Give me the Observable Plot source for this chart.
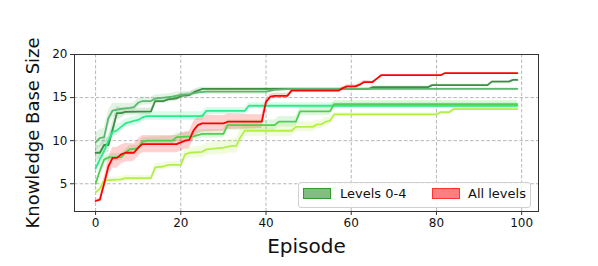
<!DOCTYPE html>
<html><head><meta charset="utf-8">
<script src="https://cdn.jsdelivr.net/npm/d3@7"></script>
<script src="https://cdn.jsdelivr.net/npm/@observablehq/plot@0.6"></script>
<style>
body{margin:0;background:#fff;font-family:"DejaVu Sans",sans-serif}
#wrap{position:relative;width:598px;height:266px;overflow:hidden}
.legend{position:absolute;left:298px;top:182px;width:231px;height:24px;background:rgba(255,255,255,0.85);border:1px solid #d0d0d0;border-radius:3px;font-size:13px;color:#111}
.sw{position:absolute;top:5px;width:26px;height:9px}
.lt{position:absolute;top:3px;line-height:15px;white-space:nowrap}
</style></head><body><div id="wrap"></div>
<script>
// [episode, mean, half-width of shaded band]
const seriesA = [[0,8.6,0.8],[1,8.6,0.8],[2,9.5,0.9],[3,9.5,0.9],[4,11.3,0.9],[5,13.2,0.8],[6,13.2,0.6],[7,13.35,0.4],[13,13.4,0.4],[14,14.6,0.3],[16,14.6,0.3],[17,14.8,0.3],[19,14.9,0.3],[20,15.2,0.3],[22,15.3,0.3],[23,15.6,0.3],[24,15.8,0.3],[25,16.0,0.2],[64,16.0,0.15],[65,16.2,0.15],[78,16.2,0.15],[79,16.45,0.1],[92,16.45,0.1],[93,16.85,0.1],[97,16.85,0.1],[98,17.05,0.1],[99,17.05,0.1]];
const seriesB = [[0,9.8,1.0],[1,10.3,1.0],[2,10.4,1.0],[3,12.6,0.9],[4,13.5,0.8],[5,13.6,0.7],[6,13.7,0.6],[8,13.8,0.5],[9,13.9,0.5],[10,14.4,0.5],[11,14.6,0.5],[13,14.6,0.4],[14,14.9,0.4],[16,15.0,0.4],[18,15.1,0.4],[20,15.3,0.4],[22,15.4,0.3],[24,15.6,0.3],[26,15.7,0.3],[40,15.7,0.3],[42,15.9,0.2],[46,16.0,0.15],[99,16.0,0.15]];
const seriesC = [[0,6.8,0.6],[1,7.8,0.6],[2,8.8,0.6],[3,10.0,0.6],[4,11.0,0.6],[5,11.2,0.6],[6,11.6,0.5],[7,12.0,0.5],[9,12.3,0.5],[10,12.4,0.5],[11,12.7,0.5],[12,12.85,0.5],[25,12.85,0.5],[26,13.45,0.4],[35,13.45,0.4],[36,14.05,0.35],[99,14.05,0.35]];
const seriesD = [[0,5.0,0.3],[1,6.5,0.4],[2,7.8,0.4],[3,8.05,0.4],[6,8.1,0.4],[7,8.6,0.4],[8,9.0,0.4],[10,9.1,0.4],[11,9.9,0.4],[12,10.0,0.4],[18,10.0,0.5],[19,10.4,0.5],[23,10.5,0.5],[25,10.8,0.5],[30,10.8,0.5],[31,11.8,0.6],[42,11.8,0.6],[43,12.2,0.6],[47,12.2,0.6],[48,13.4,0.5],[55,13.4,0.5],[56,14.25,0.4],[99,14.25,0.4]];
const seriesE = [[0,4.0,0.3],[1,4.4,0.3],[2,5.4,0.3],[6,5.5,0.3],[7,5.65,0.3],[13,5.65,0.3],[14,6.9,0.4],[16,7.0,0.4],[17,7.2,0.4],[20,7.2,0.4],[21,8.4,0.6],[22,8.6,0.6],[25,8.7,0.7],[26,9.0,0.7],[30,9.2,0.8],[32,9.4,0.8],[33,9.4,0.9],[34,10.4,0.9],[35,11.15,0.7],[46,11.15,0.7],[47,11.6,0.6],[51,11.6,0.6],[52,11.9,0.5],[53,11.9,0.5],[54,12.2,0.5],[55,12.3,0.4],[56,13.05,0.2],[80,13.05,0.15],[81,13.3,0.15],[83,13.3,0.1],[84,13.65,0.1],[99,13.65,0.1]];
const seriesAll = [[0,3.0,0.15],[1,3.15,0.2],[2,5.0,0.7],[3,7.0,1.0],[4,8.0,1.2],[5,8.0,1.2],[6,8.4,1.1],[7,8.6,1.1],[9,8.6,1.0],[10,9.2,1.0],[11,9.6,1.0],[19,9.6,1.0],[20,9.8,1.0],[21,10.0,1.0],[22,10.1,1.0],[23,11.2,1.0],[24,11.8,1.0],[25,12.0,1.0],[30,12.0,0.9],[31,12.2,0.9],[39,12.2,0.8],[40,14.5,0.4],[41,15.1,0.3],[42,15.2,0.3],[45,15.2,0.3],[46,15.8,0.1],[57,15.8,0.1],[58,16.1,0.2],[59,16.3,0.2],[61,16.3,0.2],[62,16.5,0.2],[63,16.8,0.2],[65,16.8,0.1],[66,17.2,0.05],[67,17.6,0],[81,17.6,0],[82,17.85,0],[99,17.85,0]];

const seriesNames = ["A","B","C","D","E","All"];
const seriesColors = ["#3b8f41","#5cb86e","#2eea8a","#4cd24c","#b2f046","#ff0000"];
const xTicks = [0,20,40,60,80,100];
const yTicks = [5,10,15,20];
const legendLabels = ["Levels 0-4","All levels"];

const allSeries = [seriesA,seriesB,seriesC,seriesD,seriesE,seriesAll];
const rows = [];
allSeries.forEach((s,i)=>s.forEach(([ep,m,w])=>rows.push({s:seriesNames[i],ep,mean:m,lo:m-w,hi:m+w})));

const plot = Plot.plot({
  width:598, height:266,
  marginTop:54, marginRight:60, marginBottom:55, marginLeft:74,
  style:{fontFamily:"DejaVu Sans", fontSize:"12px", background:"white", color:"#111"},
  x:{domain:[-4.95,103.95]},
  y:{domain:[1.78,20]},
  color:{domain:seriesNames, range:seriesColors},
  marks:[
    Plot.gridX(xTicks,{stroke:"#b0b0b0",strokeOpacity:1,strokeDasharray:"3.5,2",strokeWidth:0.9}),
    Plot.gridY(yTicks,{stroke:"#b0b0b0",strokeOpacity:1,strokeDasharray:"3.5,2",strokeWidth:0.9}),
    Plot.areaY(rows,{x:"ep",y1:"lo",y2:"hi",z:"s",fill:"s",fillOpacity:0.18}),
    Plot.line(rows,{x:"ep",y:"mean",z:"s",stroke:"s",strokeWidth:1.8}),
    Plot.frame({stroke:"#333",strokeWidth:1}),
    Plot.axisX(xTicks,{tickSize:4,tickPadding:3,fontSize:12,label:null,stroke:"#333"}),
    Plot.axisY(yTicks,{tickSize:4,tickPadding:3,fontSize:12,label:null,stroke:"#333"}),
    Plot.axisX({ticks:[],tickSize:0,label:"Episode",labelAnchor:"center",labelArrow:"none",fontSize:20,labelOffset:41}),
    Plot.axisY({ticks:[],tickSize:0,label:"Knowledge Base Size",labelAnchor:"center",labelArrow:"none",fontSize:18,labelOffset:48})
  ]
});
const wrap = document.getElementById("wrap");
wrap.appendChild(plot);
const lg = document.createElement("div");
lg.className = "legend";
lg.innerHTML = `<div class="sw" style="left:4px;background:rgba(0,128,0,0.5);border:1px solid rgba(0,128,0,0.6)"></div><div class="lt" style="left:41px">${legendLabels[0]}</div>
<div class="sw" style="left:133px;background:rgba(255,0,0,0.5);border:1px solid rgba(255,0,0,0.6)"></div><div class="lt" style="left:169px">${legendLabels[1]}</div>`;
wrap.appendChild(lg);
</script></body></html>
